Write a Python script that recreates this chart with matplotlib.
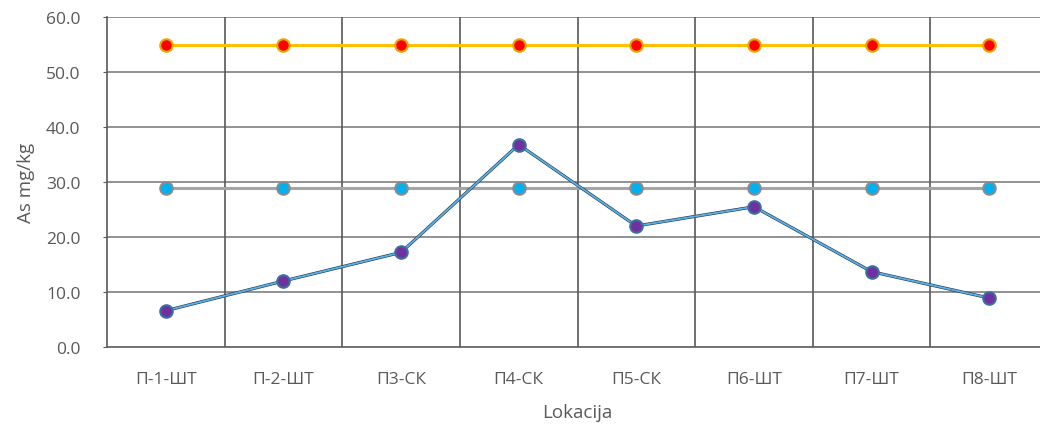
import matplotlib.pyplot as plt

# data
locations = ['П-1-ШТ', 'П-2-ШТ', 'П3-СК', 'П4-СК', 'П5-СК', 'П6-ШТ', 'П7-ШТ', 'П8-ШТ']
as_values = [6.6, 12.0, 17.2, 36.8, 22.0, 25.5, 13.7, 8.9]
limit_high = [55.0] * 8
limit_low = [29.0] * 8

plt.rcParams['font.family'] = ['Open Sans', 'DejaVu Sans']
text_color = '#595959'

fig = plt.figure(figsize=(10.4, 4.27), dpi=100)
ax = fig.add_axes([107 / 1040, 1 - 348 / 427, (1048 - 107) / 1040, (348 - 18) / 427])

x = range(len(locations))

# limit lines
ax.plot(x, limit_high, color='#FFC000', linewidth=2.2, marker='o', markersize=9,
        markerfacecolor='#FF0000', markeredgecolor='#E6A800', markeredgewidth=1.5, zorder=4)
ax.plot(x, limit_low, color='#A5A5A5', linewidth=2.2, marker='o', markersize=9,
        markerfacecolor='#00B0F0', markeredgecolor='#8C8C8C', markeredgewidth=1.5, zorder=4)

# measured values (dark line with light blue overlay)
ax.plot(x, as_values, color='#1F2D3D', linewidth=2.2, zorder=5)
ax.plot(x, as_values, color='#5BB0E6', linewidth=1.4, marker='o', markersize=9,
        markerfacecolor='#7030A0', markeredgecolor='#3C6E9E', markeredgewidth=1.5, zorder=6)

ax.set_xlim(-0.5, len(locations) - 0.5)
ax.set_ylim(0, 60)
ax.set_yticks([0, 10, 20, 30, 40, 50, 60])
ax.set_yticklabels([f'{v:.1f}' for v in [0, 10, 20, 30, 40, 50, 60]])
ax.set_xticks(list(x))
ax.set_xticklabels(locations)

# grid: horizontal on ticks, vertical between categories
for y in [10, 20, 30, 40, 50, 60]:
    ax.axhline(y, color='#7F7F7F', linewidth=1.2, zorder=1)
for b in [i + 0.5 for i in range(len(locations) - 1)]:
    ax.axvline(b, color='#595959', linewidth=1.2, zorder=1)

for side in ['top', 'right']:
    ax.spines[side].set_visible(False)
ax.spines['left'].set_color('#595959')
ax.spines['bottom'].set_color('#595959')
ax.spines['left'].set_linewidth(1.2)
ax.spines['bottom'].set_linewidth(1.2)

ax.tick_params(axis='y', length=3, color='#595959', pad=16, labelsize=12.5, labelcolor=text_color)
ax.tick_params(axis='x', length=0, pad=17, labelsize=12.5, labelcolor=text_color)

ax.set_xlabel('Lokacija', fontsize=13.5, color=text_color, labelpad=12)
ax.set_ylabel('As mg/kg', fontsize=13.5, color=text_color, labelpad=8)

fig.savefig('out.png', dpi=100)
